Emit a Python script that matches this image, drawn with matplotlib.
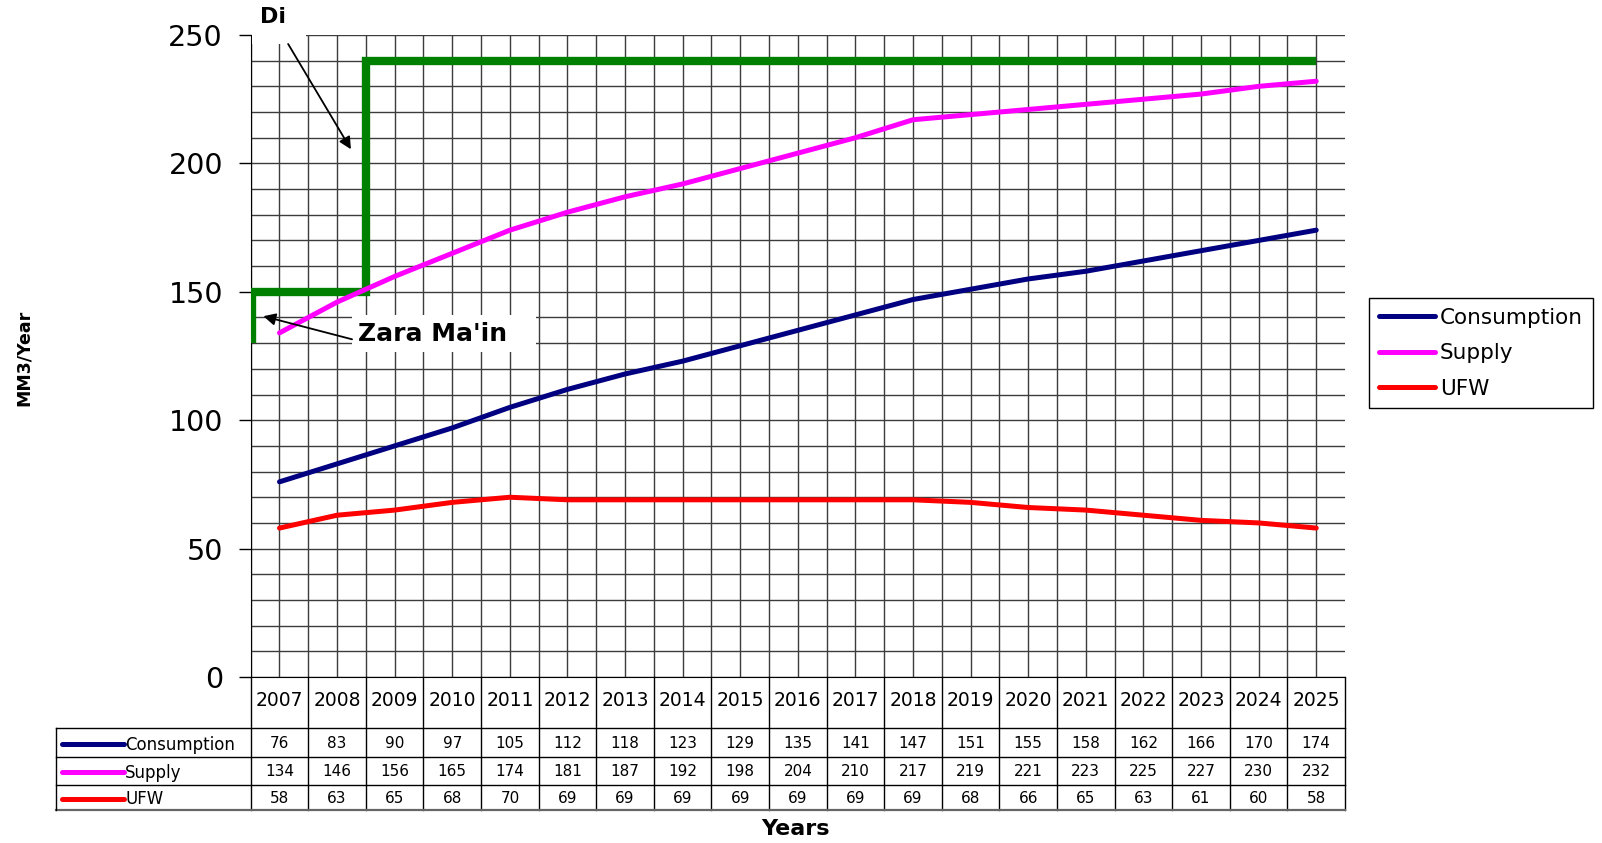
import numpy as np
import matplotlib
matplotlib.use('Agg')
import matplotlib.pyplot as plt
from matplotlib.patches import Rectangle

plt.rcParams['font.family'] = ['DejaVu Sans']

# yearly figures, MM3/Year
years = [2007, 2008, 2009, 2010, 2011, 2012, 2013, 2014, 2015, 2016,
         2017, 2018, 2019, 2020, 2021, 2022, 2023, 2024, 2025]
consumption = [76, 83, 90, 97, 105, 112, 118, 123, 129, 135,
               141, 147, 151, 155, 158, 162, 166, 170, 174]
supply = [134, 146, 156, 165, 174, 181, 187, 192, 198, 204,
          210, 217, 219, 221, 223, 225, 227, 230, 232]
ufw = [58, 63, 65, 68, 70, 69, 69, 69, 69, 69,
       69, 69, 68, 66, 65, 63, 61, 60, 58]

# source capacity steps (Zara Ma'in, then Di..), x in category positions
zara_x = [-0.47, -0.47]
zara_y = [130, 150]
capacity_x = [-0.6, 1.5, 1.5, 18]
capacity_y = [150, 150, 240, 240]

series = [('Consumption', consumption, '#000080'),
          ('Supply', supply, '#FF00FF'),
          ('UFW', ufw, '#FF0000')]

W, H = 1602, 843
fig = plt.figure(figsize=(W / 100, H / 100), dpi=100)

x0, x1 = 250.7, 1345
ax = fig.add_axes([x0 / W, 1 - 677 / H, (x1 - x0) / W, (677 - 35) / H])
x = np.arange(len(years))

ax.set_xlim(-0.5, 18.5)
ax.set_ylim(0, 250)
ax.set_xticks(x)
ax.set_xticks(np.arange(-0.5, 18.4, 1), minor=True)
ax.tick_params(axis='x', which='both', length=0, labelbottom=False)
ax.set_yticks(range(0, 251, 50))
ax.set_yticks(range(0, 251, 10), minor=True)
ax.tick_params(axis='y', which='major', length=9, width=1, pad=11, labelsize=20.5)
ax.tick_params(axis='y', which='minor', length=0)
ax.grid(which='both', color='#3c3c3c', lw=1)
ax.set_axisbelow(True)
for s in ['top', 'right']:
    ax.spines[s].set_visible(False)
ax.spines['left'].set_color('black')
ax.spines['bottom'].set_color('black')

ax.plot(zara_x, zara_y, color='#008000', lw=6, solid_capstyle='butt', zorder=3)
ax.plot(capacity_x, capacity_y, color='#008000', lw=6, solid_capstyle='butt',
        solid_joinstyle='miter', zorder=3)

handles = []
for name, vals, col in series:
    h, = ax.plot(x, vals, color=col, lw=3.6, solid_capstyle='round', label=name, zorder=4)
    handles.append(h)

# label boxes for the two sources
ax.add_patch(Rectangle((-0.47, 246.5), 0.93, 16, facecolor='white', edgecolor='none',
                       clip_on=False, zorder=5))
ax.text(-0.33, 257, 'Di', fontsize=16, fontweight='bold', ha='left', va='center',
        clip_on=False, zorder=6)
ax.annotate('', xy=(1.24, 205.5), xytext=(0.15, 246.5),
            arrowprops=dict(arrowstyle='-|>', color='black', lw=1.3,
                            mutation_scale=18, shrinkA=0, shrinkB=0), zorder=6)

ax.add_patch(Rectangle((1.26, 126.5), 3.2, 14.5, facecolor='white', edgecolor='none', zorder=5))
ax.text(1.36, 133.5, "Zara Ma'in", fontsize=18, fontweight='bold', ha='left', va='center',
        zorder=6)
ax.annotate('', xy=(-0.28, 140.5), xytext=(1.26, 131.5),
            arrowprops=dict(arrowstyle='-|>', color='black', lw=1.3,
                            mutation_scale=18, shrinkA=0, shrinkB=0), zorder=6)

ax.legend(handles=handles, loc='upper left', bbox_to_anchor=(1369 / W, 1 - 298 / H),
          bbox_transform=fig.transFigure, fontsize=15.5, frameon=True, fancybox=False,
          edgecolor='black', framealpha=1, borderaxespad=0, handlelength=2.6,
          handletextpad=0.25, labelspacing=0.72, borderpad=0.45)

# data table under the plot
tax = fig.add_axes([x0 / W, 1 - 810 / H, (x1 - x0) / W, (810 - 677) / H])
tax.set_xlim(-0.5, 18.5)
tax.set_ylim(133, 0)
tax.axis('off')

left = -0.5 - (x0 - 56) / 57.6
row_edges = [51, 80, 108, 133]
line_kw = dict(color='black', lw=1, clip_on=False)
for b in np.arange(-0.5, 18.6, 1):
    tax.plot([b, b], [0, 133], **line_kw)
for r in row_edges[:-1]:
    tax.plot([left, 18.5], [r, r], **line_kw)
tax.plot([left, 18.5], [133, 133], color='#666666', lw=1.6, clip_on=False)
tax.plot([left, left], [51, 133], **line_kw)

for i, yr in enumerate(years):
    tax.text(i, 24, str(yr), ha='center', va='center', fontsize=13.5)

for r, (name, vals, col) in enumerate(series):
    yc = (row_edges[r] + row_edges[r + 1]) / 2 + 1
    hx0 = -0.5 - (x0 - 62) / 57.6
    hx1 = -0.5 - (x0 - 124) / 57.6
    tax.plot([hx0, hx1], [yc, yc], color=col, lw=3.6, solid_capstyle='round', clip_on=False)
    tax.text(hx1 + 0.02, yc + 1, name, ha='left', va='center', fontsize=12, clip_on=False)
    for i, v in enumerate(vals):
        tax.text(i, yc, str(v), ha='center', va='center', fontsize=11)

fig.text(24 / W, 1 - 358 / H, 'MM3/Year', rotation=90, fontsize=12.5, fontweight='bold',
         ha='center', va='center')
fig.text(795 / W, 1 - 829 / H, 'Years', fontsize=16, fontweight='bold',
         ha='center', va='center')

fig.savefig('out.png', dpi=100)
